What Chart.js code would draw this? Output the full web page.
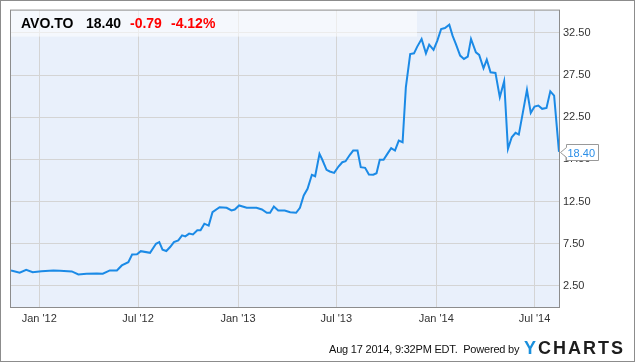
<!DOCTYPE html>
<html>
<head>
<meta charset="utf-8">
<script src="https://cdn.jsdelivr.net/npm/chart.js@4.4.1/dist/chart.umd.min.js"></script>
<style>
body{margin:0;background:#fff;font-family:"Liberation Sans",Arial,sans-serif;}
#wrap{position:relative;width:635px;height:362px;overflow:hidden;}
#chart{position:absolute;left:0;top:0;}
.hd{position:absolute;top:16px;font-size:14px;line-height:14px;font-weight:bold;color:#000;white-space:pre;}
.red{color:#f00;}
#foot{position:absolute;left:329px;top:343px;font-size:11px;line-height:12px;letter-spacing:-0.2px;color:#111;white-space:pre;}
#logo{position:absolute;left:524px;top:339px;font-size:18px;line-height:18px;font-weight:bold;letter-spacing:2px;color:#1d1d1d;}
#logo span{color:#1a8fdc;}
</style>
</head>
<body>
<div id="wrap">
  <canvas id="chart" width="635" height="362"></canvas>
  <div class="hd" style="left:21px">AVO.TO</div>
  <div class="hd" style="left:86px">18.40</div>
  <div class="hd red" style="left:130px">-0.79</div>
  <div class="hd red" style="left:171px">-4.12%</div>
  <div id="foot">Aug 17 2014, 9:32PM EDT.  Powered by</div>
  <div id="logo"><span>Y</span>CHARTS</div>
</div>
<script>
// days since 2012-01-01, weekly-ish closes
const days = [-52,-36,-24,-12,4,26,38,60,72,87,106,117,130,143,152,164,171,180,187,204,
  215,221,227,234,241,248,256,263,269,276,283,291,297,304,312,319,332,345,354,360,
  368,382,400,410,419,425,432,440,452,462,473,480,487,494,502,508,516,521,529,535,
  543,551,558,564,572,578,586,592,600,607,615,621,627,634,641,648,655,662,669,675,
  683,690,696,704,712,718,726,733,740,747,755,761,767,775,782,789,795,804,810,818,
  824,831,840,848,856,863,870,877,883,890,898,905,912,919,926,934,941,948,957];
const prices = [4.34,4.06,4.42,4.13,4.25,4.34,4.30,4.22,3.86,3.94,3.98,3.94,4.34,4.34,4.93,5.32,6.23,6.25,6.62,6.43,
  7.50,7.69,6.80,6.64,7.11,7.70,7.90,8.50,8.37,8.70,8.60,9.09,9.09,9.88,9.65,11.25,11.84,11.77,11.45,11.56,
  12.04,11.77,11.77,11.56,11.17,11.17,11.92,11.45,11.45,11.24,11.17,11.77,13.23,14.02,15.68,15.51,18.16,17.49,16.27,16.07,
  15.91,16.66,17.17,17.29,18.05,18.55,18.55,16.58,16.50,15.71,15.68,15.86,17.45,17.45,18.16,18.83,18.55,19.74,19.54,26.05,
  30.00,30.08,30.88,31.79,30.08,31.11,30.49,31.59,32.97,33.09,33.48,32.18,31.20,29.81,29.42,29.69,31.79,30.20,29.90,28.31,
  29.34,27.83,27.76,24.87,26.77,18.76,20.13,20.65,20.45,22.90,25.75,23.02,23.77,23.89,23.50,23.61,25.58,25.07,18.40];

const xTickDays = [0,182,366,547,731,912];
const xTickLabels = ["Jan '12","Jul '12","Jan '13","Jul '13","Jan '14","Jul '14"];
const yTicks = [2.5,7.5,12.5,17.5,22.5,27.5,32.5];
const lastPrice = "18.40";

const frame = {
  id:'frame',
  beforeDraw(c){
    const ctx=c.ctx, a=c.chartArea;
    ctx.save();
    ctx.fillStyle='#fff'; ctx.fillRect(0,0,c.width,c.height);
    ctx.fillStyle='#e9f0fb'; ctx.fillRect(a.left,a.top,a.right-a.left,a.bottom-a.top);
    ctx.restore();
  },
  beforeDatasetsDraw(c){
    const ctx=c.ctx, a=c.chartArea;
    ctx.save();
    ctx.fillStyle='rgba(255,255,255,0.55)';
    ctx.fillRect(a.left,a.top,406,26);
    ctx.restore();
  },
  afterDraw(c){
    const ctx=c.ctx, a=c.chartArea;
    ctx.save();
    ctx.strokeStyle='#8c8c8c'; ctx.lineWidth=1;
    ctx.strokeRect(a.left-0.5,a.top-0.5,a.right-a.left+1,a.bottom-a.top+1);
    ctx.strokeRect(0.5,0.5,c.width-1,c.height-1);
    // last value tag
    const y=Math.round(c.scales.y.getPixelForValue(prices[prices.length-1]))+0.5;
    const x=a.right+1.5;
    ctx.beginPath();
    ctx.moveTo(x,y); ctx.lineTo(x+6,y-5); ctx.lineTo(x+6,y-8); ctx.lineTo(x+38,y-8);
    ctx.lineTo(x+38,y+8); ctx.lineTo(x+6,y+8); ctx.lineTo(x+6,y+5); ctx.closePath();
    ctx.fillStyle='#fff'; ctx.fill();
    ctx.strokeStyle='#999'; ctx.stroke();
    ctx.fillStyle='#2a8ee8'; ctx.font='11px "Liberation Sans", Arial, sans-serif';
    ctx.textBaseline='middle'; ctx.textAlign='left';
    ctx.fillText(lastPrice,x+7,y+1);
    ctx.restore();
  }
};

new Chart(document.getElementById('chart'),{
  type:'line',
  data:{datasets:[{
    data:days.map((d,i)=>({x:d,y:prices[i]})),
    borderColor:'#1b8ae6',
    borderWidth:2,
    pointRadius:0,
    tension:0,
    fill:false
  }]},
  options:{
    responsive:false,
    animation:false,
    layout:{padding:{left:11,top:10,right:0,bottom:0}},
    plugins:{legend:{display:false},tooltip:{enabled:false}},
    scales:{
      x:{
        type:'linear',min:-52,max:957,
        afterFit(s){s.height=55;},
        afterBuildTicks(s){s.ticks=xTickDays.map(v=>({value:v}));},
        grid:{color:'#d4d4d4',drawTicks:false},
        border:{display:false},
        ticks:{autoSkip:false,maxRotation:0,padding:5,color:'#333',
          font:{family:'"Liberation Sans", Arial, sans-serif',size:11},
          callback:(v,i)=>xTickLabels[i]}
      },
      y:{
        position:'right',min:0,max:35.15,
        afterFit(s){s.width=76;},
        afterBuildTicks(s){s.ticks=yTicks.map(v=>({value:v}));},
        grid:{color:'#d4d4d4',drawTicks:false},
        border:{display:false},
        ticks:{padding:4,color:'#333',
          font:{family:'"Liberation Sans", Arial, sans-serif',size:11},
          callback:v=>v.toFixed(2)}
      }
    }
  },
  plugins:[frame]
});
</script>
</body>
</html>
